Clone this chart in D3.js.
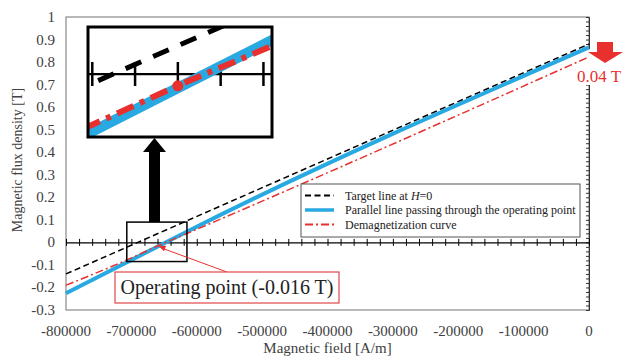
<!DOCTYPE html>
<html>
<head>
<meta charset="utf-8">
<script src="https://cdn.jsdelivr.net/npm/d3@7"></script>
<style>
  body { margin: 0; background: #fff; }
  svg { display: block; font-family: "Liberation Serif", "Times New Roman", serif; }
</style>
</head>
<body>
<svg id="chart" width="625" height="356"></svg>
<script>
// data
const targetH = [-800000, 0]
const targetB = [-0.14, 0.88]
const parallelH = [-800000, -658000, -616000, 0]
const parallelB = [-0.226, -0.016, 0.046, 0.865]
const demagH = [-800000, -700000, -660000, -617000, 0]
const demagB = [-0.19, -0.069, -0.016, 0.037, 0.823]
const operatingPoint = [-660000, -0.016]

const xTickLabels = [-800000, -700000, -600000, -500000, -400000, -300000, -200000, -100000, 0]
const yTickLabels = [-0.3, -0.2, -0.1, 0, 0.1, 0.2, 0.3, 0.4, 0.5, 0.6, 0.7, 0.8, 0.9, 1]
const legendLabels = ['Target line at ', 'Parallel line passing through the operating point', 'Demagnetization curve']

// zoomed window shown in the inset
const zoomH = [-702000, -616000]
const zoomB = [-0.0857, 0.064]
const boxH = [-707000, -615000]
const boxB = [-0.085, 0.09]

const blue = '#29a9e1'
const red = '#e8312f'
const grey = '#404040'

const svg = d3.select('#chart')

const x = d3.scaleLinear().domain([-800000, 0]).range([66, 589])
const y = d3.scaleLinear().domain([-0.3, 1]).range([310, 17])

const series = [
  {id: 'target', h: targetH, b: targetB, color: '#000', width: 1.5, dash: '6,3.5', iw: 5, idash: '17,13'},
  {id: 'parallel', h: parallelH, b: parallelB, color: blue, width: 4, dash: null, iw: 10.5, idash: null},
  {id: 'demag', h: demagH, b: demagB, color: red, width: 1.5, dash: '8,3,2,3', iw: 6, idash: '18,7,5,7'}
]
const pts = (s) => s.h.map((h, i) => [h, s.b[i]])

// frame
svg.append('rect')
  .attr('x', x(-800000)).attr('y', y(1))
  .attr('width', x(0) - x(-800000)).attr('height', y(-0.3) - y(1))
  .attr('fill', 'none').attr('stroke', '#8a8a8a').attr('stroke-width', 1.2)

// right axis at H = 0 with minor ticks
const rightAxis = svg.append('g')
  .attr('transform', `translate(${x(0)},0)`)
  .call(d3.axisLeft(y).tickValues(d3.range(-30, 101, 2).map((v) => v / 100)).tickSize(3).tickFormat(''))
rightAxis.select('.domain').attr('stroke', '#333')
rightAxis.selectAll('.tick line').attr('stroke', '#333')

// horizontal axis at B = 0
const zeroAxis = svg.append('g')
  .attr('transform', `translate(0,${y(0)})`)
  .call(d3.axisBottom(x).tickValues(d3.range(-800000, 1, 20000)).tickSize(3).tickSizeOuter(0).tickFormat(''))
zeroAxis.select('.domain').attr('stroke', '#000').attr('stroke-width', 1.2)
zeroAxis.selectAll('.tick line').attr('y1', -3.5).attr('y2', 3.5).attr('stroke', '#000')

// tick labels
svg.append('g').selectAll('text')
  .data(yTickLabels).join('text')
  .attr('x', 55).attr('y', (d) => y(d) + 5)
  .attr('text-anchor', 'end').attr('font-size', 15).attr('fill', grey)
  .text((d) => d)
svg.append('g').selectAll('text')
  .data(xTickLabels).join('text')
  .attr('x', (d) => x(d)).attr('y', 336)
  .attr('text-anchor', 'middle').attr('font-size', 15).attr('fill', grey)
  .text((d) => d)

svg.append('text')
  .attr('x', (x(-800000) + x(0)) / 2).attr('y', 353)
  .attr('text-anchor', 'middle').attr('font-size', 15).attr('fill', grey)
  .text('Magnetic field [A/m]')
svg.append('text')
  .attr('transform', 'translate(22,160) rotate(-90)')
  .attr('text-anchor', 'middle').attr('font-size', 14).attr('fill', grey)
  .text('Magnetic flux density [T]')

// white patch behind the 0.04 T note
svg.append('rect').attr('x', 586).attr('y', 49).attr('width', 39).attr('height', 36).attr('fill', '#fff')

// lines
const line = d3.line().x((d) => x(d[0])).y((d) => y(d[1])).curve(d3.curveMonotoneX)
svg.append('g').selectAll('path')
  .data(series).join('path')
  .attr('d', (s) => line(pts(s)))
  .attr('fill', 'none')
  .attr('stroke', (s) => s.color)
  .attr('stroke-width', (s) => s.width)
  .attr('stroke-dasharray', (s) => s.dash)

// legend
const legend = svg.append('g').attr('transform', 'translate(301,184)')
legend.append('rect').attr('width', 279).attr('height', 53)
  .attr('fill', '#fff').attr('stroke', '#555').attr('stroke-width', 1)
const rows = legend.selectAll('g.row')
  .data(series).join('g').attr('class', 'row')
  .attr('transform', (d, i) => `translate(0,${11.5 + i * 14.5})`)
rows.append('line')
  .attr('x1', 4).attr('x2', 33)
  .attr('stroke', (s) => s.color)
  .attr('stroke-width', (s) => s.id === 'parallel' ? 3.5 : 1.8)
  .attr('stroke-dasharray', (s) => s.dash)
const labels = rows.append('text')
  .attr('x', 44).attr('y', 4)
  .attr('font-size', 12).attr('fill', '#222')
  .text((d, i) => legendLabels[i])
labels.filter((d, i) => i === 0).each(function () {
  const t = d3.select(this)
  t.append('tspan').attr('font-style', 'italic').text('H')
  t.append('tspan').text('=0')
})

// small box around the operating point
svg.append('rect')
  .attr('x', x(boxH[0])).attr('y', y(boxB[1]))
  .attr('width', x(boxH[1]) - x(boxH[0])).attr('height', y(boxB[0]) - y(boxB[1]))
  .attr('fill', 'none').attr('stroke', '#000').attr('stroke-width', 1.5)

// inset (magnified view)
const inset = {left: 88, top: 27, right: 272, bottom: 137}
const xi = d3.scaleLinear().domain(zoomH).range([inset.left, inset.right])
const yi = d3.scaleLinear().domain(zoomB).range([inset.bottom, inset.top])
svg.append('defs').append('clipPath').attr('id', 'insetClip')
  .append('rect').attr('x', inset.left).attr('y', inset.top)
  .attr('width', inset.right - inset.left).attr('height', inset.bottom - inset.top)
svg.append('rect')
  .attr('x', inset.left).attr('y', inset.top)
  .attr('width', inset.right - inset.left).attr('height', inset.bottom - inset.top)
  .attr('fill', '#fff')
const ig = svg.append('g').attr('clip-path', 'url(#insetClip)')
ig.append('line')
  .attr('x1', inset.left).attr('x2', inset.right).attr('y1', yi(0)).attr('y2', yi(0))
  .attr('stroke', '#000').attr('stroke-width', 2.2)
ig.selectAll('line.itick')
  .data(d3.range(-700000, -615000, 20000)).join('line').attr('class', 'itick')
  .attr('x1', (d) => xi(d)).attr('x2', (d) => xi(d))
  .attr('y1', yi(0) - 12).attr('y2', yi(0) + 12)
  .attr('stroke', '#000').attr('stroke-width', 2.5)
const iline = d3.line().x((d) => xi(d[0])).y((d) => yi(d[1])).curve(d3.curveMonotoneX)
ig.selectAll('path')
  .data(series).join('path')
  .attr('d', (s) => iline(pts(s)))
  .attr('fill', 'none')
  .attr('stroke', (s) => s.color)
  .attr('stroke-width', (s) => s.iw)
  .attr('stroke-dasharray', (s) => s.idash)
ig.append('circle')
  .attr('cx', xi(operatingPoint[0])).attr('cy', yi(operatingPoint[1])).attr('r', 5.5)
  .attr('fill', red)
svg.append('rect')
  .attr('x', inset.left).attr('y', inset.top)
  .attr('width', inset.right - inset.left).attr('height', inset.bottom - inset.top)
  .attr('fill', 'none').attr('stroke', '#000').attr('stroke-width', 3)

// black arrow from the box up to the inset
const ax = 154.5
const arrowTop = inset.bottom + 1
const arrowBottom = y(boxB[1])
svg.append('path')
  .attr('d', `M${ax - 5.5},${arrowBottom} V${arrowTop + 14} H${ax - 11.5} L${ax},${arrowTop} L${ax + 11.5},${arrowTop + 14} H${ax + 5.5} V${arrowBottom} Z`)
  .attr('fill', '#000')

// operating point callout
const callout = {x: 115, y: 272, w: 224, h: 31}
svg.append('line')
  .attr('x1', 227).attr('y1', callout.y)
  .attr('x2', x(operatingPoint[0]) + 4).attr('y2', y(operatingPoint[1]) + 2)
  .attr('stroke', red).attr('stroke-width', 1)
const tip = [x(operatingPoint[0]) + 1, y(operatingPoint[1])]
const ang = Math.atan2(272 - tip[1], 227 - tip[0])
const hw = 3, hl = 7
svg.append('path')
  .attr('d', `M${tip[0]},${tip[1]} L${tip[0] + hl * Math.cos(ang) - hw * Math.sin(ang)},${tip[1] + hl * Math.sin(ang) + hw * Math.cos(ang)} L${tip[0] + hl * Math.cos(ang) + hw * Math.sin(ang)},${tip[1] + hl * Math.sin(ang) - hw * Math.cos(ang)} Z`)
  .attr('fill', red)
svg.append('rect')
  .attr('x', callout.x).attr('y', callout.y).attr('width', callout.w).attr('height', callout.h)
  .attr('fill', '#fff').attr('stroke', '#e04848').attr('stroke-width', 1.2)
svg.append('text')
  .attr('x', callout.x + callout.w / 2).attr('y', callout.y + 22)
  .attr('text-anchor', 'middle').attr('font-size', 20).attr('fill', '#222')
  .text('Operating point (-0.016 T)')

// red arrow showing the 0.04 T drop
svg.append('path')
  .attr('d', 'M597,42 H613 V52 H623 L605,63 L588,52 H597 Z')
  .attr('fill', red)
svg.append('text')
  .attr('x', 599).attr('y', 82)
  .attr('text-anchor', 'middle').attr('font-size', 17).attr('fill', red)
  .text('0.04 T')
</script>
</body>
</html>
